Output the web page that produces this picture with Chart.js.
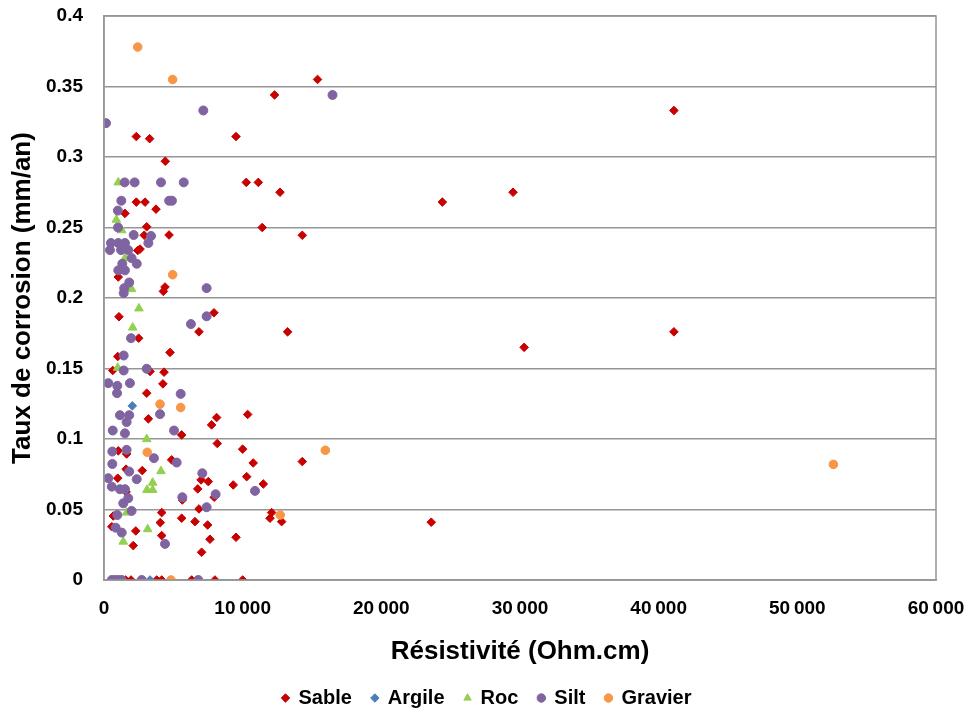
<!DOCTYPE html>
<html>
<head>
<meta charset="utf-8">
<script src="https://cdn.jsdelivr.net/npm/chart.js@4/dist/chart.umd.min.js"></script>
<style>
  html, body { margin: 0; padding: 0; background: #fff; }
  #wrap { width: 974px; height: 710px; }
</style>
</head>
<body>
<div id="wrap"><canvas id="corrosion-chart" width="974" height="710"></canvas></div>
<script>
// [résistivité (Ohm.cm), taux de corrosion (mm/an)]
const sable = [
    [12300, 0.344], [15400, 0.355], [41100, 0.333], [2330, 0.3145], [3290, 0.313], [9520, 0.3145],
    [4420, 0.297], [10260, 0.282], [11130, 0.282], [12690, 0.275], [29500, 0.275], [24400, 0.268],
    [2330, 0.268], [2960, 0.268], [3750, 0.263], [1510, 0.26], [3080, 0.2505], [11410, 0.25],
    [14300, 0.2445], [2900, 0.2445], [4690, 0.2447], [2430, 0.2337], [2600, 0.2347], [1030, 0.2149],
    [4400, 0.2078], [4280, 0.2047], [1080, 0.1867], [7930, 0.1895], [13240, 0.176], [41100, 0.176],
    [6850, 0.176], [30300, 0.165], [2500, 0.1715], [4760, 0.1614], [990, 0.1585], [630, 0.1486],
    [3320, 0.1479], [4330, 0.1474], [4250, 0.1391], [3080, 0.1325],
    [3200, 0.1143], [8120, 0.1152], [10360, 0.1174], [7760, 0.11], [5600, 0.1029], [8170, 0.0968],
    [10000, 0.0928], [1030, 0.0916], [1630, 0.0894], [4880, 0.0852], [10760, 0.083], [14300, 0.084],
    [1590, 0.0786], [2760, 0.0776], [990, 0.0722], [7000, 0.071], [7520, 0.0698], [10290, 0.0733],
    [9320, 0.0674], [11490, 0.0681], [6760, 0.0646], [1590, 0.0625], [5650, 0.0568], [7950, 0.0587],
    [6850, 0.0504], [670, 0.0454], [4160, 0.0478], [5600, 0.0438], [12090, 0.0478], [11970, 0.0438],
    [12810, 0.0414], [23600, 0.041], [6560, 0.0414], [7470, 0.039], [4060, 0.0407], [560, 0.0378],
    [2290, 0.0348], [4160, 0.0315], [7640, 0.0289], [9520, 0.0303], [2110, 0.0244], [7040, 0.0197],
    [1300, 0], [1560, 0], [1950, 0], [3800, 0], [4160, 0], [6320, 0], [8000, 0], [10000, 0]
];
const argile = [[2040, 0.1235], [3320, 0]];
const roc = [
    [1030, 0.282], [890, 0.2555], [1280, 0.248], [1510, 0.2283], [1990, 0.2063], [2520, 0.1926],
    [2070, 0.179], [990, 0.1505], [3080, 0.0999], [4110, 0.0772], [3510, 0.069], [3510, 0.0639],
    [3100, 0.0639], [1630, 0.0478], [3150, 0.036], [1390, 0.0272]
];
const silt = [
    [16480, 0.344], [7160, 0.333], [144, 0.324], [1490, 0.282], [2210, 0.282], [4110, 0.282],
    [5750, 0.282], [1250, 0.269], [4700, 0.269], [4900, 0.269], [1000, 0.262], [1010, 0.25],
    [2140, 0.2447], [3200, 0.239], [3390, 0.244], [500, 0.239], [1030, 0.239], [1510, 0.239],
    [430, 0.234], [1230, 0.234], [1750, 0.234], [1990, 0.2283], [2360, 0.2243], [1320, 0.2243],
    [1030, 0.2196], [1510, 0.2196], [1820, 0.211], [1460, 0.207], [1420, 0.2035], [7400, 0.207],
    [7400, 0.187], [6270, 0.1815], [1950, 0.1715], [1420, 0.1592], [1420, 0.1486], [3080, 0.1498],
    [310, 0.1396], [960, 0.1377], [1870, 0.1396], [940, 0.1325], [5530, 0.132], [1150, 0.1169],
    [1820, 0.1169], [4040, 0.1176], [1630, 0.112], [630, 0.106], [1510, 0.104], [5050, 0.106],
    [600, 0.0911], [1630, 0.0923], [3600, 0.0864], [5240, 0.0833], [600, 0.0823], [1820, 0.0769],
    [7090, 0.0757], [310, 0.0722], [2360, 0.0715], [560, 0.0662], [1150, 0.0644], [1510, 0.0644],
    [10890, 0.0632], [1750, 0.058], [5650, 0.0587], [1390, 0.0544], [8050, 0.0608], [7400, 0.0516],
    [1990, 0.049], [960, 0.0461], [840, 0.0371], [1280, 0.0336], [4400, 0.0256],
    [560, 0], [790, 0], [1030, 0], [1280, 0], [2720, 0], [6800, 0]
];
const gravier = [
    [2430, 0.378], [4950, 0.355], [4950, 0.2165], [4040, 0.1247], [5530, 0.1223], [3120, 0.0906],
    [15960, 0.092], [52600, 0.082], [12710, 0.0461], [4830, 0]
];

const xTicks = [0, 10000, 20000, 30000, 40000, 50000, 60000];
const yTicks = [0, 0.05, 0.1, 0.15, 0.2, 0.25, 0.3, 0.35, 0.4];

const FONT = "'Liberation Sans', Arial, sans-serif";
const GRID = '#969696';

const toPoints = arr => arr.map(p => ({x: p[0], y: p[1]}));

function makeSet(label, pts, color, style, radius, order) {
    return {
        label: label,
        data: toPoints(pts),
        pointStyle: style,
        pointRadius: radius,
        backgroundColor: color,
        borderColor: color,
        borderWidth: 1,
        order: order
    };
}

// Excel draws later series on top -> lower order = drawn last
const data = {
    datasets: [
        makeSet('Sable', sable, '#C80000', 'rectRot', 4.3, 5),
        makeSet('Argile', argile, '#4A7EBB', 'rectRot', 4.3, 4),
        makeSet('Roc', roc, '#92D050', 'triangle', 5, 3),
        makeSet('Silt', silt, '#8064A2', 'circle', 4.5, 2),
        makeSet('Gravier', gravier, '#F79646', 'circle', 4.3, 1)
    ]
};

const frame = {
    id: 'frame',
    afterDraw(chart) {
        const {ctx, chartArea: a} = chart;
        ctx.save();
        ctx.strokeStyle = GRID;
        ctx.lineWidth = 1.5;
        ctx.strokeRect(a.left, a.top, a.right - a.left, a.bottom - a.top);
        ctx.restore();
    }
};

const config = {
    type: 'scatter',
    data: data,
    plugins: [frame],
    options: {
        responsive: false,
        animation: false,
        layout: {padding: 0},
        plugins: {
            tooltip: {enabled: false},
            legend: {
                position: 'bottom',
                maxHeight: 42,
                labels: {
                    usePointStyle: true,
                    boxWidth: 6,
                    boxHeight: 6,
                    padding: 20,
                    color: '#000',
                    font: {family: FONT, size: 20, weight: 'bold'},
                    sort: (a, b) => a.datasetIndex - b.datasetIndex
                }
            }
        },
        scales: {
            x: {
                type: 'linear',
                min: 0,
                max: 60000,
                afterFit: s => { s.height = 88; s.paddingLeft = 0; s.paddingRight = 38; },
                afterBuildTicks: s => { s.ticks = xTicks.map(v => ({value: v})); },
                grid: {display: false, drawTicks: false},
                border: {display: true, color: GRID, width: 1.5},
                ticks: {
                    padding: 17,
                    color: '#000',
                    font: {family: FONT, size: 19, weight: 'bold'},
                    callback: v => String(v).replace(/\B(?=(\d{3})+(?!\d))/g, '\u202f')
                },
                title: {
                    display: true,
                    text: 'Résistivité (Ohm.cm)',
                    color: '#000',
                    font: {family: FONT, size: 26, weight: 'bold'},
                    padding: {top: 0, bottom: 1}
                }
            },
            y: {
                type: 'linear',
                min: 0,
                max: 0.4,
                afterFit: s => { s.width = 104; s.paddingTop = 16; s.paddingBottom = 0; },
                afterBuildTicks: s => { s.ticks = yTicks.map(v => ({value: v})); },
                grid: {color: GRID, lineWidth: 1.5, drawTicks: false},
                border: {display: true, color: GRID, width: 1.5},
                ticks: {
                    padding: 21,
                    color: '#000',
                    font: {family: FONT, size: 19, weight: 'bold'},
                    callback: v => String(+v.toFixed(2))
                },
                title: {
                    display: true,
                    text: 'Taux de corrosion (mm/an)',
                    color: '#000',
                    font: {family: FONT, size: 26, weight: 'bold'},
                    padding: {top: 7, bottom: 0}
                }
            }
        }
    }
};

const myChart = new Chart(document.getElementById('corrosion-chart'), config);
</script>
</body>
</html>
